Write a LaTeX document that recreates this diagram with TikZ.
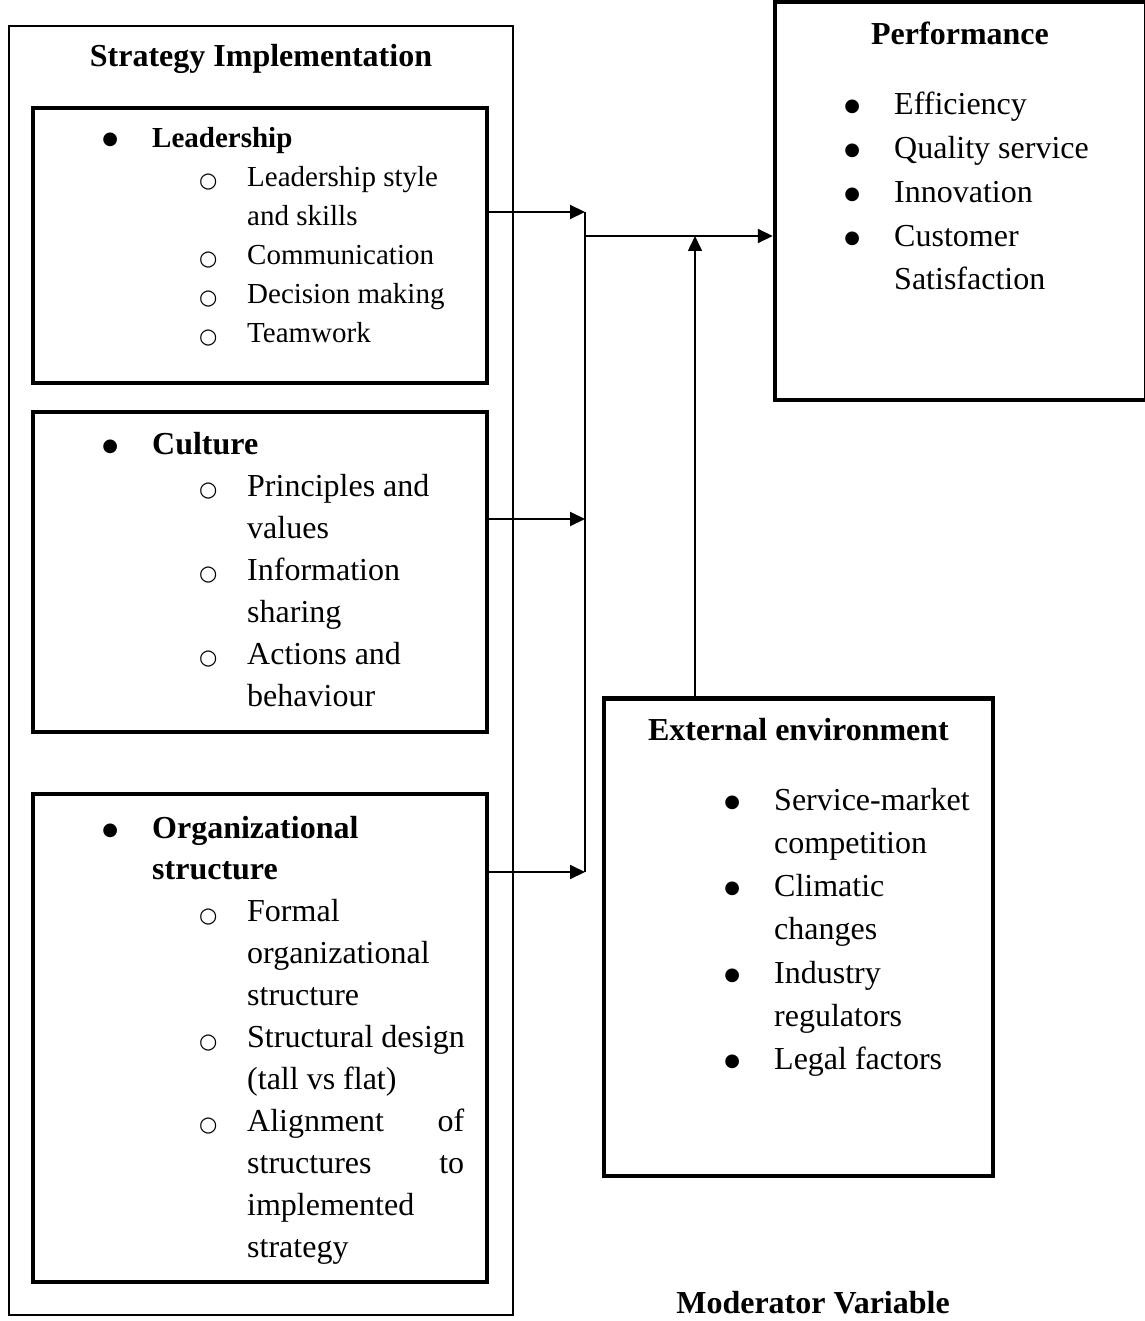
\documentclass[tikz,border=0pt]{standalone}
\usepackage{fontspec}
\setmainfont{Liberation Serif}
\newfontfamily\symfnt{DejaVu Sans}
\usetikzlibrary{arrows.meta}

\newcommand{\mainbul}{\raisebox{3pt}{\symfnt\fontsize{18}{18}\selectfont ●}}
\newcommand{\subbul}{\raisebox{-0.5pt}{\symfnt\fontsize{21}{21}\selectfont ○}}
\newcommand{\itemb}[1]{\hspace*{20pt}\makebox[0pt]{\mainbul}\hspace*{42pt}#1}
\newcommand{\itemc}[1]{\hspace*{62pt}#1}
\newcommand{\subi}[1]{\hspace*{118pt}\makebox[0pt]{\subbul}\hspace*{39pt}#1}
\newcommand{\subc}[1]{\hspace*{157pt}#1}

\begin{document}
\begin{tikzpicture}[x=1pt,y=-1pt,
    thinbox/.style={draw,line width=2pt,inner sep=0pt},
    thickbox/.style={draw,line width=4.5pt,inner sep=0pt},
    txt/.style={anchor=base west,inner sep=0pt},
    head/.style={anchor=base,inner sep=0pt,font=\fontsize{32}{40}\selectfont\bfseries},
    conn/.style={line width=1.6pt},
    arr/.style={line width=2pt,-{Triangle[length=15pt,width=14pt]}}]
	\useasboundingbox (0,0) rectangle (1144,1321);
	\node[thinbox,minimum width=504,minimum height=1289] (strat) at (261,670.5) {};
	\node[thickbox,minimum width=454,minimum height=275] (lead) at (260,245.5) {};
	\node[thickbox,minimum width=454,minimum height=320] (cult) at (260,572) {};
	\node[thickbox,minimum width=454,minimum height=488] (org) at (260,1038) {};
	\node[thickbox,minimum width=371,minimum height=398] (perf) at (960.5,201) {};
	\node[thickbox,minimum width=389,minimum height=477.5] (ext) at (798.5,937) {};

	\node[head] (strattitle) at (261,67) {Strategy Implementation};
	\node[head] (perftitle) at (960,45) {Performance};
	\node[head] (exttitle) at (798.5,740) {External environment};
	\node[head] (modtitle) at (813,1313) {Moderator Variable};

	\node[txt] (leadtxt) at (90,148) {\parbox[t]{420pt}{\fontsize{29}{39}\selectfont
		\itemb{\textbf{Leadership}}\\
		\subi{Leadership style}\\
		\subc{and skills}\\
		\subi{Communication}\\
		\subi{Decision making}\\
		\subi{Teamwork}}};
	\node[txt] (culttxt) at (90,454) {\parbox[t]{420pt}{\fontsize{32}{42}\selectfont
		\itemb{\textbf{Culture}}\\
		\subi{Principles and}\\
		\subc{values}\\
		\subi{Information}\\
		\subc{sharing}\\
		\subi{Actions and}\\
		\subc{behaviour}}};
	\node[txt] (orgtxt) at (90,838) {\parbox[t]{420pt}{\fontsize{32}{41.9}\selectfont
		\itemb{\textbf{Organizational}}\\
		\itemc{\textbf{structure}}\\
		\subi{Formal}\\
		\subc{organizational}\\
		\subc{structure}\\
		\subi{Structural design}\\
		\subc{(tall vs flat)}\\
		\subi{\makebox[217pt][s]{Alignment of}}\\
		\subc{\makebox[217pt][s]{structures to}}\\
		\subc{implemented}\\
		\subc{strategy}}};
	\node[txt] (perftxt) at (832,115) {\parbox[t]{300pt}{\fontsize{32}{43.75}\selectfont
		\itemb{Efficiency}\\
		\itemb{Quality service}\\
		\itemb{Innovation}\\
		\itemb{Customer}\\
		\itemc{Satisfaction}}};
	\node[txt] (exttxt) at (712,810) {\parbox[t]{300pt}{\fontsize{32}{43.3}\selectfont
		\itemb{Service-market}\\
		\itemc{competition}\\
		\itemb{Climatic}\\
		\itemc{changes}\\
		\itemb{Industry}\\
		\itemc{regulators}\\
		\itemb{Legal factors}}};

	\coordinate (bus1) at (585,212);
	\coordinate (bus2) at (585,519);
	\coordinate (bus3) at (585,872);
	\coordinate (busout) at (585,236);
	\coordinate (up) at (695,236);
	\draw[arr] (lead.east |- bus1) -- (bus1);
	\draw[arr] (cult.east |- bus2) -- (bus2);
	\draw[arr] (org.east |- bus3) -- (bus3);
	\draw[conn] (bus1) -- (bus3);
	\draw[arr] (busout) -- (perf.west |- busout);
	\draw[arr,line width=1.6pt] (ext.north -| up) -- (up);
\end{tikzpicture}
\end{document}
